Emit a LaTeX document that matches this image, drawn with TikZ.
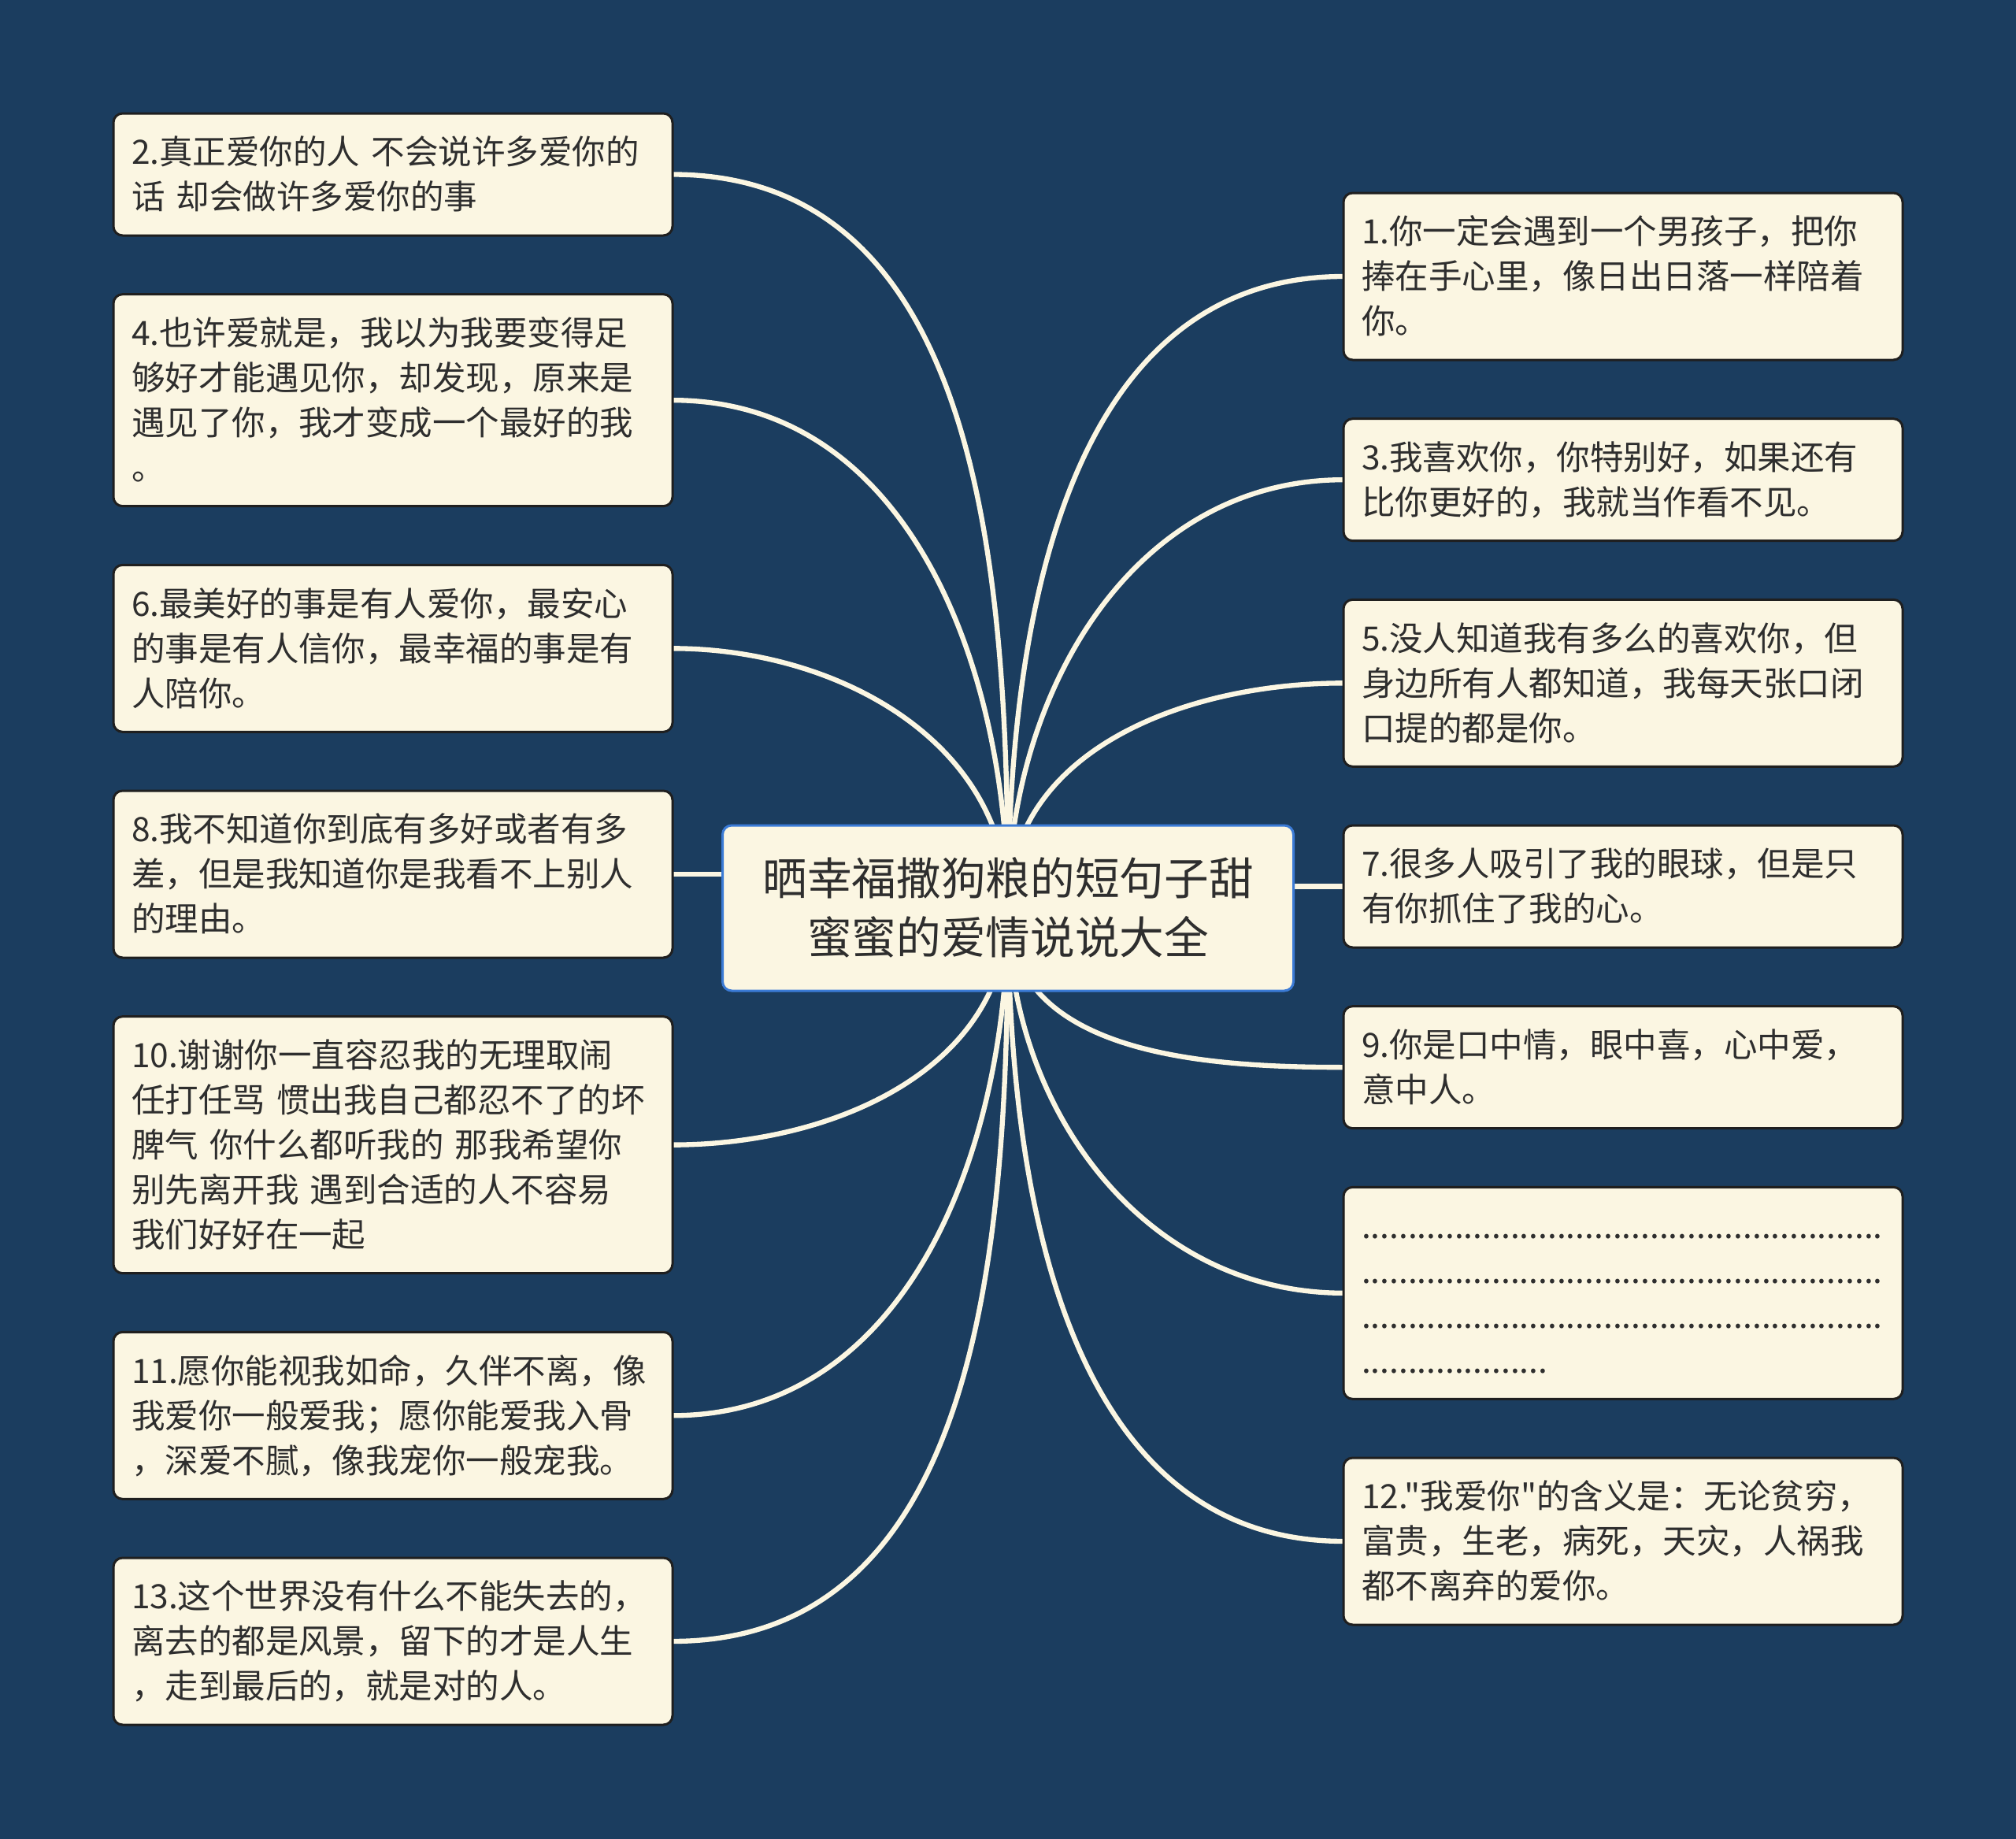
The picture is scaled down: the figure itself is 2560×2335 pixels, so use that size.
\documentclass[tikz,border=0pt]{standalone}
\usepackage{fontspec}
\newfontfamily\cjkfont{Noto Sans CJK SC}
\usepackage{tikz}
\usepackage{xcolor}
\usetikzlibrary{backgrounds,positioning}

\definecolor{navy}{HTML}{1B3D5F}
\definecolor{cream}{HTML}{FBF6E2}
\definecolor{inkgray}{HTML}{2E2E2E}
\definecolor{rootblue}{HTML}{3B7BD6}
\newcommand{\lnstrut}{\rule[-0.22\baselineskip]{0pt}{\baselineskip}}

\begin{document}
\begin{tikzpicture}[
    x=0.3pt, y=-0.3pt,
    node distance=22.4pt,
    leaf/.style={draw=black!88, line width=0.9pt, fill=cream, rounded corners=3.5pt,
        text width=199.2pt, inner xsep=6.9pt, inner ysep=6.15pt, outer sep=0pt,
        align=left, text=inkgray, font=\cjkfont\fontsize{12.75pt}{17.1pt}\selectfont,
        execute at begin node=\lnstrut, execute at end node=\lnstrut},
    root/.style={draw=rootblue, line width=0.9pt, fill=cream, rounded corners=3.5pt,
        text width=195pt, inner xsep=11.25pt, inner ysep=9pt, outer sep=0pt,
        align=center, text=inkgray, font=\cjkfont\fontsize{17pt}{22.5pt}\selectfont,
        execute at begin node=\lnstrut, execute at end node=\lnstrut},
    link/.style={draw=cream, line width=1.9pt}
]
    \node[root] (c) at (1280,1153) {晒幸福撒狗粮的短句子甜\\蜜蜜的爱情说说大全};

    \node[leaf, anchor=north west] (q2) at (144,144) {2.真正爱你的人 不会说许多爱你的\\话 却会做许多爱你的事};
    \node[leaf, below=of q2] (q4) {4.也许爱就是，我以为我要变得足\\够好才能遇见你，却发现，原来是\\遇见了你，我才变成一个最好的我\\。};
    \node[leaf, below=of q4] (q6) {6.最美好的事是有人爱你，最安心\\的事是有人信你，最幸福的事是有\\人陪你。};
    \node[leaf, below=of q6] (q8) {8.我不知道你到底有多好或者有多\\差，但是我知道你是我看不上别人\\的理由。};
    \node[leaf, below=of q8] (q10) {10.谢谢你一直容忍我的无理取闹\\任打任骂 惯出我自己都忍不了的坏\\脾气 你什么都听我的 那我希望你\\别先离开我 遇到合适的人不容易\\我们好好在一起};
    \node[leaf, below=of q10] (q11) {11.愿你能视我如命，久伴不离，像\\我爱你一般爱我；愿你能爱我入骨\\，深爱不腻，像我宠你一般宠我。};
    \node[leaf, below=of q11] (q13) {13.这个世界没有什么不能失去的，\\离去的都是风景，留下的才是人生\\，走到最后的，就是对的人。};

    \node[leaf, anchor=north west] (q1) at (1706,245) {1.你一定会遇到一个男孩子，把你\\捧在手心里，像日出日落一样陪着\\你。};
    \node[leaf, below=of q1] (q3) {3.我喜欢你，你特别好，如果还有\\比你更好的，我就当作看不见。};
    \node[leaf, below=of q3] (q5) {5.没人知道我有多么的喜欢你，但\\身边所有人都知道，我每天张口闭\\口提的都是你。};
    \node[leaf, below=of q5] (q7) {7.很多人吸引了我的眼球，但是只\\有你抓住了我的心。};
    \node[leaf, below=of q7] (q9) {9.你是口中情，眼中喜，心中爱，\\意中人。};
    \node[leaf, below=of q9] (qdots) {........................................................\\........................................................\\........................................................\\....................};
    \node[leaf, below=of qdots] (q12) {12."我爱你"的含义是：无论贫穷，\\富贵，生老，病死，天灾，人祸我\\都不离弃的爱你。};

    \begin{scope}[on background layer]
        \fill[navy] (0,0) rectangle (2560,2335);
        \foreach \n in {q2,q4,q6}
            \draw[link] (c.center) to[out=90, in=0] (\n.east);
        \foreach \n in {q10,q11,q13}
            \draw[link] (c.center) to[out=-90, in=0] (\n.east);
        \foreach \n in {q1,q3,q5}
            \draw[link] (c.center) to[out=90, in=180] (\n.west);
        \foreach \n in {q9,qdots,q12}
            \draw[link] (c.center) to[out=-90, in=180] (\n.west);
        \draw[link] (q8.east) -- (q8.east -| c.west);
        \draw[link] (c.east |- q7.west) -- (q7.west);
    \end{scope}
\end{tikzpicture}
\end{document}
